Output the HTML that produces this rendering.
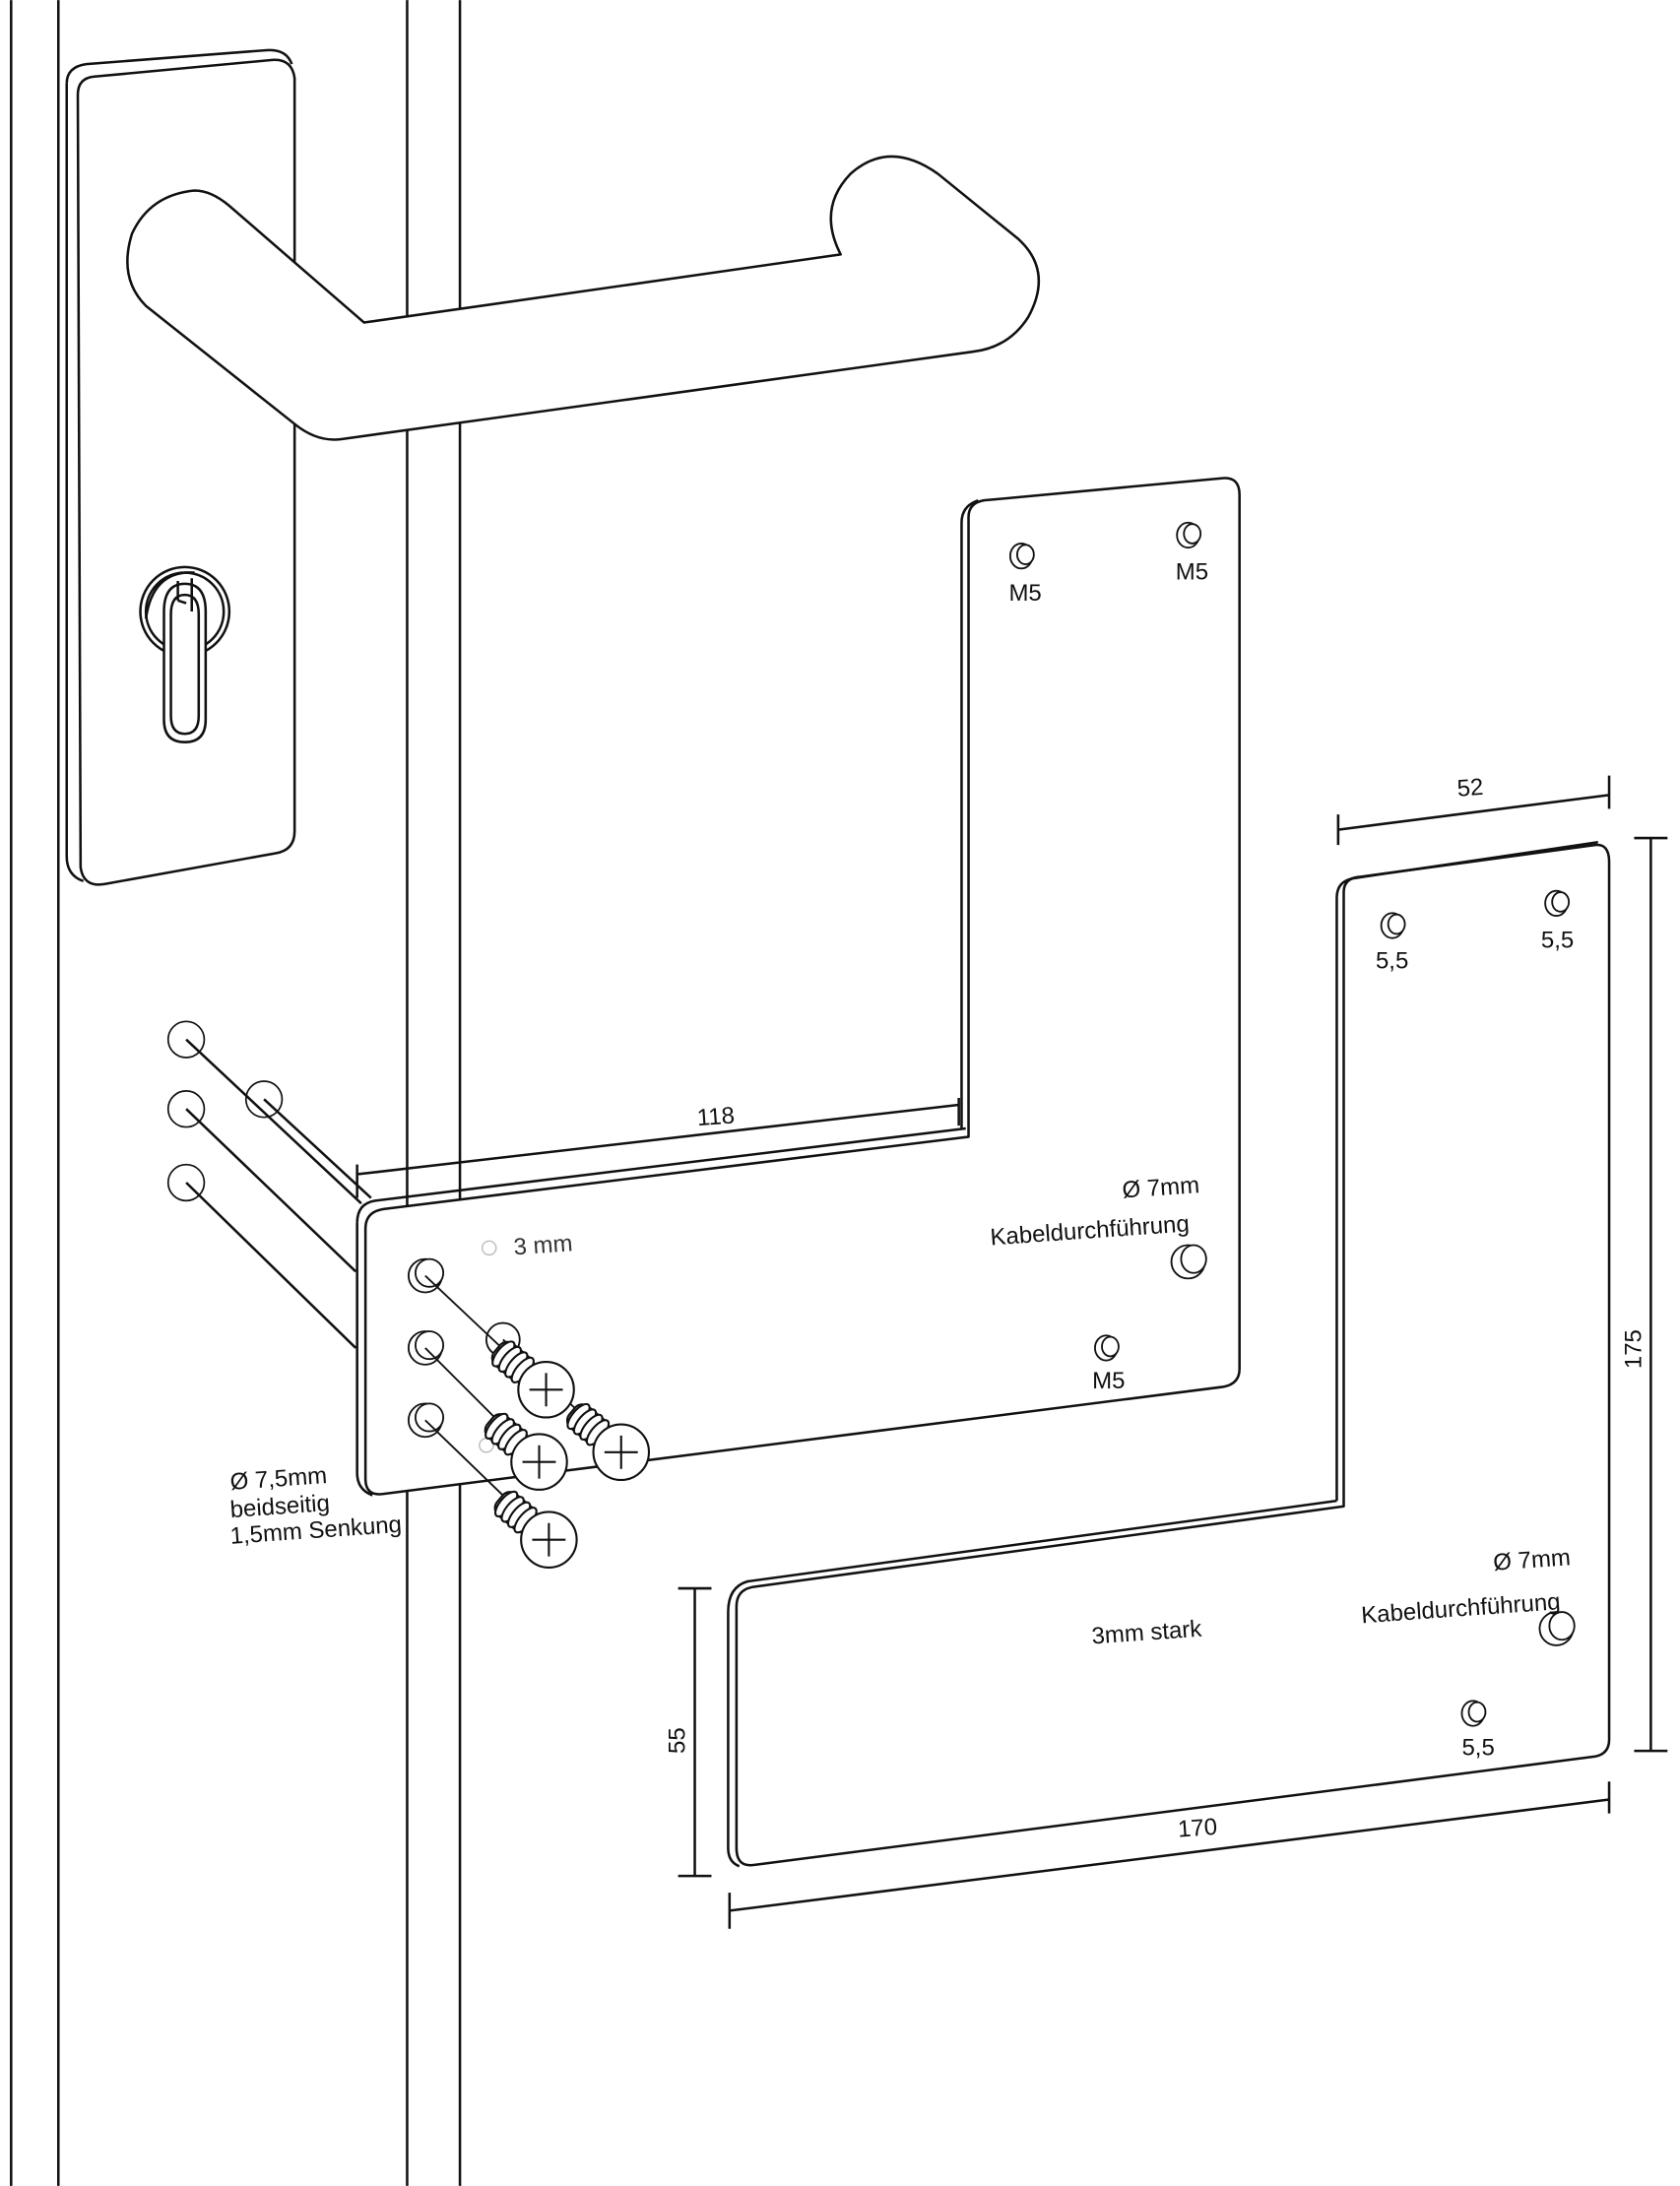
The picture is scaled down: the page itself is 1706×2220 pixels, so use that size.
<!DOCTYPE html>
<html><head><meta charset="utf-8"><style>
html,body{margin:0;padding:0;background:#fff;}
svg{display:block;}
text{font-family:"Liberation Sans",sans-serif;font-size:17px;fill:#111;}
</style></head><body>
<svg width="1706" height="2220" viewBox="0 0 1209 1573" xmlns="http://www.w3.org/2000/svg">
<g fill="none" stroke="#111" stroke-width="1.8" stroke-linejoin="round">
<line x1="8" y1="0" x2="8" y2="1573"/>
<line x1="42" y1="0" x2="42" y2="1573"/>
<line x1="293" y1="0" x2="293" y2="1573"/>
<line x1="331" y1="0" x2="331" y2="1573"/>
<path d="M48,60 Q48,48 62,46 L192,36 Q206,35 210,46" />
<path d="M56,68 Q56,56 68,55 L196,43 Q210,42 212,56 L212,598 Q212,612 198,614 L76,636 Q60,639 58,624 Z" fill="#fff"/>
<path d="M48,60 L48,616 Q48,630 60,634"/>
<path d="M262,232 L605,183 Q588,150 612,125 Q640,100 675,125 L733,172 Q758,195 740,228 Q726,250 700,253 L245,316 Q228,318 212,305 L105,220 Q85,200 95,168 Q108,140 140,137 Q152,137 165,148 Z" fill="#fff"/>
<circle cx="133" cy="440" r="32"/>
<circle cx="133" cy="440" r="28"/>
<path d="M118,440 Q118,420 133,420 Q148,420 148,440 L148,518 Q148,534 133,534 Q118,534 118,518 Z" fill="#fff"/>
<path d="M123,442 Q123,428 133,428 Q143,428 143,442 L143,515 Q143,528 133,528 Q123,528 123,515 Z"/>
<path d="M128,418 L128,432 M138,416 L138,440 M128,432 L134,434"/>
<path d="M105,445 Q110,410 140,412"/>
<path d="M697,372 Q697,362 708,360 L880,344 Q892,343 892,356 L892,985 Q892,996 880,998 L276,1075 Q263,1077 263,1064 L263,884 Q263,872 276,870 L697,818 Z" fill="#fff"/>
<path d="M257,880 Q257,866 270,864 L695,812"/>
<path d="M257,880 L257,1060 Q257,1072 268,1076"/>
<path d="M692,376 L692,812 M692,376 Q692,364 704,360"/>
<path d="M967,642 Q967,632 978,631 L1148,608 Q1158,607 1158,620 L1158,1252 Q1158,1262 1148,1264 L543,1342 Q530,1344 530,1330 L530,1156 Q530,1144 542,1142 L967,1084 Z" fill="#fff"/>
<path d="M962,646 Q962,634 974,632 L1150,606 M962,646 L962,1080 M524,1160 Q524,1142 538,1138 L962,1080 M524,1160 L524,1330 Q524,1340 532,1343"/>
<path d="M963,597 L1158,572 M963,586 L963,608 M1158,558 L1158,582"/>
<path d="M1188,603 L1188,1260 M1176,603 L1200,603 M1176,1260 L1200,1260"/>
<path d="M500,1143 L500,1350 M488,1143 L512,1143 M488,1350 L512,1350"/>
<path d="M525,1375 L1158,1295 M525,1362 L525,1388 M1158,1282 L1158,1305"/>
<path d="M257,845 L690,795 M257,838 L257,862 M690,790 L690,810"/>
<circle cx="134" cy="748" r="13" stroke-width="1.2"/>
<circle cx="134" cy="798" r="13" stroke-width="1.2"/>
<circle cx="190" cy="791" r="13" stroke-width="1.2"/>
<circle cx="134" cy="851" r="13" stroke-width="1.2"/>
<path d="M134,748 L260,866 M134,798 L256,915 M190,791 L267,862 M134,851 L256,970"/>
</g>
<g fill="#fff" stroke="#111" stroke-width="1.3">
<ellipse cx="735" cy="400" rx="8" ry="9"/><ellipse cx="738" cy="399" rx="6" ry="7"/>
<ellipse cx="855" cy="385" rx="8" ry="9"/><ellipse cx="858" cy="384" rx="6" ry="7"/>
<ellipse cx="855" cy="908" rx="12" ry="12"/><ellipse cx="859" cy="906" rx="9" ry="10"/>
<ellipse cx="796" cy="970" rx="8" ry="9"/><ellipse cx="799" cy="969" rx="6" ry="7"/>
<ellipse cx="306" cy="918" rx="12" ry="12"/><ellipse cx="309" cy="916" rx="10" ry="10"/>
<ellipse cx="306" cy="970" rx="12" ry="12"/><ellipse cx="309" cy="968" rx="10" ry="10"/>
<ellipse cx="306" cy="1022" rx="12" ry="12"/><ellipse cx="309" cy="1020" rx="10" ry="10"/>
<ellipse cx="362" cy="964" rx="12" ry="12"/>
<ellipse cx="1002" cy="666" rx="8" ry="9"/><ellipse cx="1005" cy="665" rx="6" ry="7"/>
<ellipse cx="1120" cy="650" rx="8" ry="9"/><ellipse cx="1123" cy="649" rx="6" ry="7"/>
<ellipse cx="1120" cy="1172" rx="12" ry="12"/><ellipse cx="1124" cy="1170" rx="9" ry="10"/>
<ellipse cx="1060" cy="1233" rx="8" ry="9"/><ellipse cx="1063" cy="1232" rx="6" ry="7"/>
</g>
<g stroke="#bbb" fill="none" stroke-width="1"><circle cx="352" cy="898" r="5"/><circle cx="350" cy="1040" r="5"/></g>
<g stroke="#111" stroke-width="1.3" fill="none">
<path d="M306,918 L393,1000 M306,970 L388,1052 M306,1022 L395,1108 M362,964 L447,1045"/>
</g>
<g fill="#fff" stroke="#111" stroke-width="1.5">
<g transform="translate(393,1000)"><g transform="rotate(40)"><rect x="-46" y="-10" width="30" height="20" rx="7"/><ellipse cx="-40" cy="0" rx="4.5" ry="11"/><ellipse cx="-34" cy="0" rx="4.5" ry="11"/><ellipse cx="-28" cy="0" rx="4.5" ry="11"/><ellipse cx="-22" cy="0" rx="4.5" ry="11"/></g><circle r="20"/><path d="M-12,0 H12 M0,-12 V12"/></g>
<g transform="translate(388,1052)"><g transform="rotate(40)"><rect x="-46" y="-10" width="30" height="20" rx="7"/><ellipse cx="-40" cy="0" rx="4.5" ry="11"/><ellipse cx="-34" cy="0" rx="4.5" ry="11"/><ellipse cx="-28" cy="0" rx="4.5" ry="11"/><ellipse cx="-22" cy="0" rx="4.5" ry="11"/></g><circle r="20"/><path d="M-12,0 H12 M0,-12 V12"/></g>
<g transform="translate(447,1045)"><g transform="rotate(40)"><rect x="-46" y="-10" width="30" height="20" rx="7"/><ellipse cx="-40" cy="0" rx="4.5" ry="11"/><ellipse cx="-34" cy="0" rx="4.5" ry="11"/><ellipse cx="-28" cy="0" rx="4.5" ry="11"/><ellipse cx="-22" cy="0" rx="4.5" ry="11"/></g><circle r="20"/><path d="M-12,0 H12 M0,-12 V12"/></g>
<g transform="translate(395,1108)"><g transform="rotate(40)"><rect x="-46" y="-10" width="30" height="20" rx="7"/><ellipse cx="-40" cy="0" rx="4.5" ry="11"/><ellipse cx="-34" cy="0" rx="4.5" ry="11"/><ellipse cx="-28" cy="0" rx="4.5" ry="11"/><ellipse cx="-22" cy="0" rx="4.5" ry="11"/></g><circle r="20"/><path d="M-12,0 H12 M0,-12 V12"/></g>
</g>
<text x="726" y="432">M5</text>
<text x="846" y="417">M5</text>
<text x="786" y="999">M5</text>
<text x="808" y="862" transform="rotate(-4 808 862)">Ø 7mm</text>
<text x="713" y="896" transform="rotate(-4 713 896)">Kabeldurchführung</text>
<text x="370" y="903" style="fill:#333" transform="rotate(-4 370 903)">3 mm</text>
<text x="166" y="1072" transform="rotate(-4 166 1072)">Ø 7,5mm</text>
<text x="166" y="1092" transform="rotate(-4 166 1092)">beidseitig</text>
<text x="166" y="1111" transform="rotate(-4 166 1111)">1,5mm Senkung</text>
<text x="502" y="810" transform="rotate(-4 502 810)">118</text>
<text x="990" y="697">5,5</text>
<text x="1109" y="682">5,5</text>
<text x="1052" y="1263">5,5</text>
<text x="1075" y="1130" transform="rotate(-4 1075 1130)">Ø 7mm</text>
<text x="980" y="1168" transform="rotate(-4 980 1168)">Kabeldurchführung</text>
<text x="786" y="1183" transform="rotate(-4 786 1183)">3mm stark</text>
<text x="1049" y="573" transform="rotate(-4 1049 573)">52</text>
<text x="848" y="1322" transform="rotate(-4 848 1322)">170</text>
<text x="1181" y="985" transform="rotate(-90 1181 985)">175</text>
<text x="493" y="1262" transform="rotate(-90 493 1262)">55</text>
</svg>
</body></html>
